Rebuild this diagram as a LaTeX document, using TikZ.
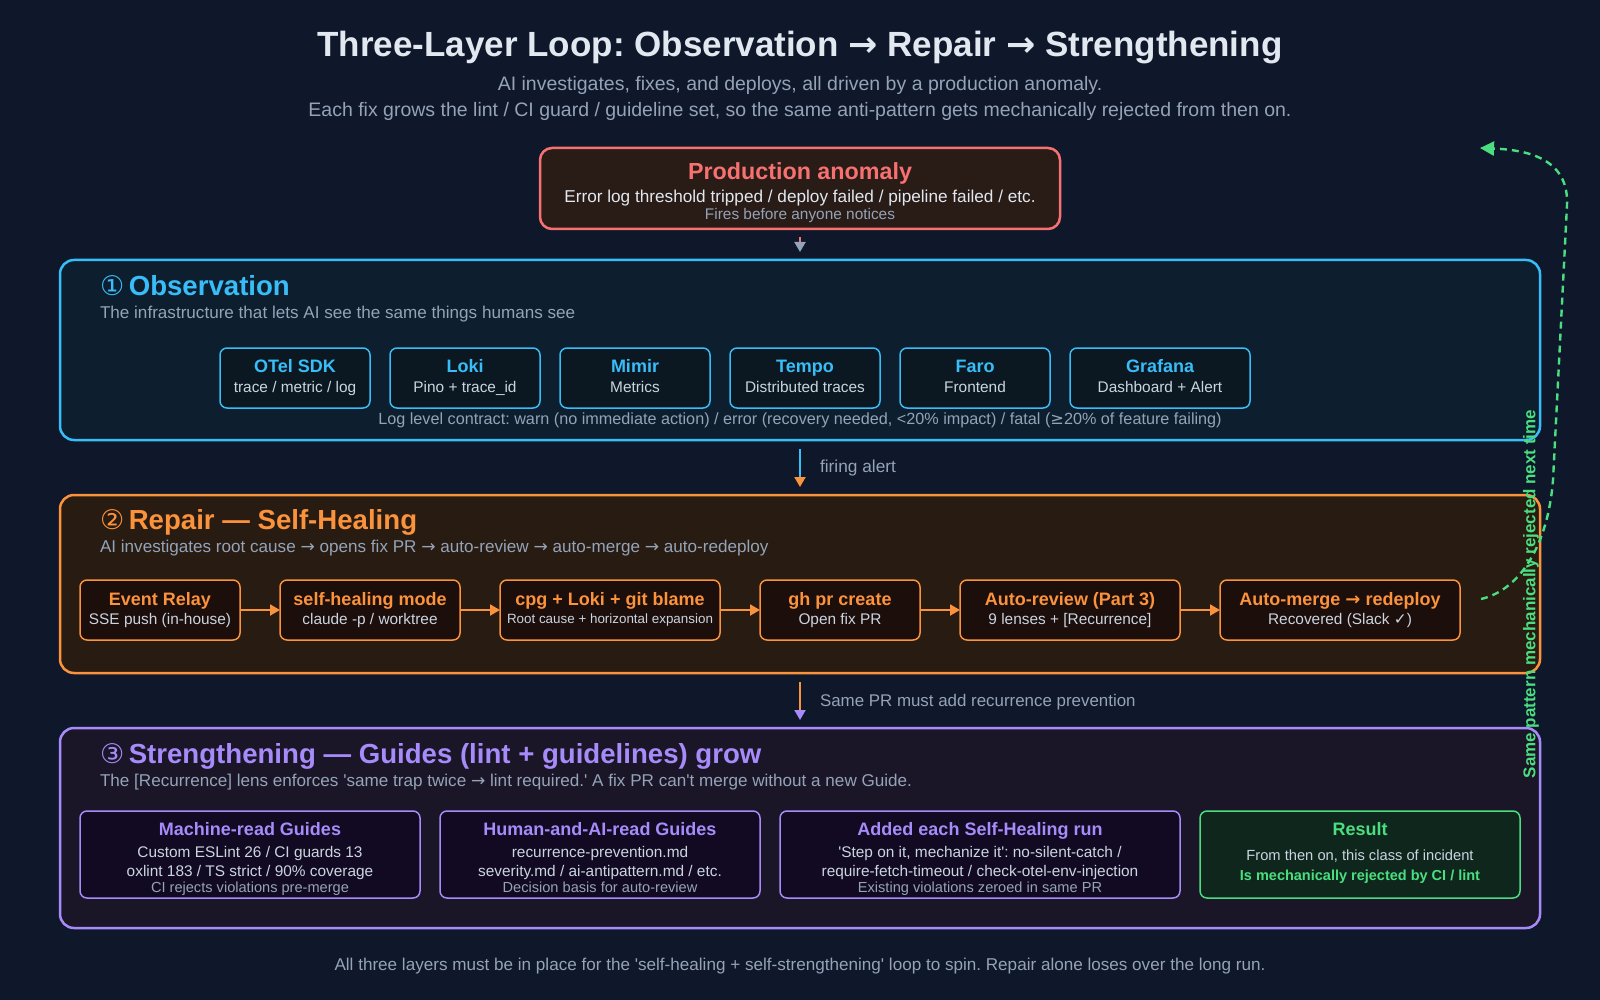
\documentclass[tikz,border=0pt]{standalone}
\usepackage{fontspec}
\setmainfont{Liberation Sans}[Ligatures=TeXOff]
\newfontfamily\symfont{DejaVu Sans}
\newcommand\sym[1]{{\symfont #1}}
\newcommand\fsz[1]{\fontsize{#1}{#1}\selectfont}
\usetikzlibrary{arrows.meta}
\definecolor{bg}{HTML}{0F172A}
\definecolor{titlec}{HTML}{E2E8F0}
\definecolor{graytx}{HTML}{94A3B8}
\definecolor{lighttx}{HTML}{CBD5E1}
\definecolor{redc}{HTML}{F87171}
\definecolor{anomfill}{HTML}{291B16}
\definecolor{skyc}{HTML}{38BDF8}
\definecolor{obsfill}{HTML}{0D1F2F}
\definecolor{obsboxfill}{HTML}{0B1821}
\definecolor{orc}{HTML}{FB923C}
\definecolor{repfill}{HTML}{281B11}
\definecolor{repboxfill}{HTML}{1C0E0A}
\definecolor{vic}{HTML}{A78BFA}
\definecolor{strfill}{HTML}{1A1627}
\definecolor{strboxfill}{HTML}{120A22}
\definecolor{grc}{HTML}{4ADE80}
\definecolor{resfill}{HTML}{0F261C}
\begin{document}
\frenchspacing
\begin{tikzpicture}[x=1pt,y=-1pt,
  every node/.style={inner sep=0pt, outer sep=0pt},
  tx/.style={text depth=0pt},
  panel/.style={line width=2.5pt, rounded corners=14pt},
  obsbox/.style={draw=skyc, fill=obsboxfill, line width=1.5pt, rounded corners=7pt},
  repbox/.style={draw=orc, fill=repboxfill, line width=1.5pt, rounded corners=7pt},
  strbox/.style={draw=vic, fill=strboxfill, line width=1.5pt, rounded corners=7pt},
  ptitle/.style={tx, anchor=west, font=\fsz{27.6}\bfseries},
  psub/.style={tx, anchor=west, text=graytx, font=\fsz{17.1}},
  btitle/.style={tx, font=\fsz{18}\bfseries},
  btext/.style={tx, text=lighttx, font=\fsz{15.4}},
  bsmall/.style={tx, text=graytx, font=\fsz{14.6}},
  flow/.style={draw=orc, line width=2pt, -{Triangle[length=10pt,width=11pt]}},
  lbl/.style={tx, anchor=west, text=graytx, font=\fsz{17.3}}
]
\useasboundingbox[fill=bg] (0,0) rectangle (1600,1000);

% title
\node[tx, text=titlec, font=\fsz{35}\bfseries] (title) at (800,44) {Three-Layer Loop: Observation \sym{→} Repair \sym{→} Strengthening};
\node[tx, text=graytx, font=\fsz{19.5}] (sub1) at (800,83.5) {AI investigates, fixes, and deploys, all driven by a production anomaly.};
\node[tx, text=graytx, font=\fsz{19.5}] (sub2) at (800,109) {Each fix grows the lint / CI guard / guideline set, so the same anti-pattern gets mechanically rejected from then on.};

% anomaly
\node[draw=redc, fill=anomfill, line width=2.5pt, rounded corners=12pt, minimum width=520pt, minimum height=81pt] (anom) at (800,188.5) {};
\node[tx, text=redc, font=\fsz{23.3}\bfseries] (anomT) at (800,171) {Production anomaly};
\node[tx, text=titlec, font=\fsz{17.2}] (anomD) at (800,196.5) {Error log threshold tripped / deploy failed / pipeline failed / etc.};
\node[tx, text=graytx, font=\fsz{15.4}] (anomS) at (800,213.5) {Fires before anyone notices};

% panels
\node[panel, draw=skyc, fill=obsfill, minimum width=1480pt, minimum height=180pt] (obs) at (800,350) {};
\node[panel, draw=orc, fill=repfill, minimum width=1480pt, minimum height=178pt] (rep) at (800,584) {};
\node[panel, draw=vic, fill=strfill, minimum width=1480pt, minimum height=200pt] (str) at (800,828) {};

% arrows between layers
\draw[redc, line width=2pt, shorten <=8pt, shorten >=8pt, -{Triangle[length=10pt,width=11pt,color=graytx,fill=graytx]}] (anom) -- (obs);
\draw[skyc, line width=2pt, shorten <=9pt, shorten >=8pt, -{Triangle[length=10pt,width=11pt,color=orc,fill=orc]}] (obs) -- (rep);
\node[lbl] (firing) at (820,466) {firing alert};
\draw[orc, line width=2pt, shorten <=9pt, shorten >=8pt, -{Triangle[length=10pt,width=11pt,color=vic,fill=vic]}] (rep) -- (str);
\node[lbl, font=\fsz{16.9}] (samepr) at (820,700) {Same PR must add recurrence prevention};

% observation
\node[ptitle, text=skyc] (obsT) at (100,285.5) {{\symfont\fontsize{27}{27}\selectfont\mdseries ①}\,Observation};
\node[psub] (obsS) at (100,312.5) {The infrastructure that lets AI see the same things humans see};
\foreach \nm/\cx/\w/\t/\d in {otel/295/150/OTel SDK/{trace / metric / log}, loki/465/150/Loki/{Pino + trace\_id}, mimir/635/150/Mimir/Metrics, tempo/805/150/Tempo/{Distributed traces}, faro/975/150/Faro/Frontend, grafana/1160/180/Grafana/{Dashboard + Alert}}{
  \node[obsbox, minimum width=\w pt, minimum height=60pt] (\nm) at (\cx,378) {};
  \node[btitle, text=skyc] (\nm T) at (\cx,366) {\t};
  \node[btext] (\nm D) at (\cx,387) {\d};
}
\node[tx, text=graytx, font=\fsz{16.2}] (loglvl) at (800,418.5) {Log level contract: warn (no immediate action) / error (recovery needed, <20\% impact) / fatal (\sym{≥}20\% of feature failing)};

% repair
\node[ptitle, text=orc] (repT) at (100,519) {{\symfont\fontsize{27}{27}\selectfont\mdseries ②}\,Repair — Self-Healing};
\node[psub] (repS) at (100,546) {AI investigates root cause \sym{→} opens fix PR \sym{→} auto-review \sym{→} auto-merge \sym{→} auto-redeploy};
\foreach \nm/\cx/\w/\t/\d in {relay/160/160/Event Relay/{SSE push (in-house)}, heal/370/180/self-healing mode/{claude -p / worktree}, gh/840/160/gh pr create/{Open fix PR}, review/1070/220/Auto-review (Part 3)/{9 lenses + [Recurrence]}}{
  \node[repbox, minimum width=\w pt, minimum height=60pt] (\nm) at (\cx,610) {};
  \node[btitle, text=orc] (\nm T) at (\cx,598.5) {\t};
  \node[btext] (\nm D) at (\cx,619) {\d};
}
\node[repbox, minimum width=220pt, minimum height=60pt] (cpg) at (610,610) {};
\node[btitle, text=orc] (cpgT) at (610,598.5) {cpg + Loki + git blame};
\node[btext, font=\fsz{13.4}] (cpgD) at (610,619) {Root cause + horizontal expansion};
\node[repbox, minimum width=240pt, minimum height=60pt] (merge) at (1340,610) {};
\node[btitle, text=orc] (mergeT) at (1340,598.5) {Auto-merge \sym{→} redeploy};
\node[btext] (mergeD) at (1340,619) {Recovered (Slack \sym{✓})};
\draw[flow] (relay) -- (heal);
\draw[flow] (heal) -- (cpg);
\draw[flow] (cpg) -- (gh);
\draw[flow] (gh) -- (review);
\draw[flow] (review) -- (merge);

% strengthening
\node[ptitle, text=vic] (strT) at (100,753) {{\symfont\fontsize{27}{27}\selectfont\mdseries ③}\,Strengthening — Guides (lint + guidelines) grow};
\node[psub] (strS) at (100,780) {The [Recurrence] lens enforces 'same trap twice \sym{→} lint required.' A fix PR can't merge without a new Guide.};

\node[strbox, minimum width=340pt, minimum height=87pt] (mach) at (250,854.5) {};
\node[btitle, text=vic] (machT) at (250,829) {Machine-read Guides};
\node[btext] (machA) at (250,852) {Custom ESLint 26 / CI guards 13};
\node[btext] (machB) at (250,870.5) {oxlint 183 / TS strict / 90\% coverage};
\node[bsmall] (machC) at (250,887) {CI rejects violations pre-merge};

\node[strbox, minimum width=320pt, minimum height=87pt] (human) at (600,854.5) {};
\node[btitle, text=vic] (humanT) at (600,829) {Human-and-AI-read Guides};
\node[btext] (humanA) at (600,852) {recurrence-prevention.md};
\node[btext] (humanB) at (600,870.5) {severity.md / ai-antipattern.md / etc.};
\node[bsmall] (humanC) at (600,887) {Decision basis for auto-review};

\node[strbox, minimum width=400pt, minimum height=87pt] (added) at (980,854.5) {};
\node[btitle, text=vic] (addedT) at (980,829) {Added each Self-Healing run};
\node[btext] (addedA) at (980,852) {'Step on it, mechanize it': no-silent-catch /};
\node[btext] (addedB) at (980,870.5) {require-fetch-timeout / check-otel-env-injection};
\node[bsmall] (addedC) at (980,887) {Existing violations zeroed in same PR};

\node[draw=grc, fill=resfill, line width=1.5pt, rounded corners=7pt, minimum width=320pt, minimum height=87pt] (result) at (1360,854.5) {};
\node[btitle, text=grc] (resT) at (1360,829) {Result};
\node[btext, font=\fsz{14.7}] (resA) at (1360,855) {From then on, this class of incident};
\node[tx, text=grc, font=\fsz{14.5}\bfseries] (resB) at (1360,875) {Is mechanically rejected by CI / lint};

% footer
\node[tx, text=graytx, font=\fsz{17.1}] (foot) at (800,964.5) {All three layers must be in place for the 'self-healing + self-strengthening' loop to spin. Repair alone loses over the long run.};

% loop-back
\coordinate (loopS) at (1481,599);
\coordinate (loopE) at (1480,148);
\draw[grc, line width=2.4pt, dash pattern=on 7pt off 5pt, -{Triangle[length=14pt,width=14pt]}]
  (loopS) .. controls (1520,590) and (1548,545) .. (1553,480)
  -- (1567,205) .. controls (1569,160) and (1530,150) .. (loopE);
\node[rotate=90, text=grc, font=\fsz{17}\bfseries] (looplbl) at (1531,594) {Same pattern mechanically rejected next time};
\end{tikzpicture}
\end{document}
